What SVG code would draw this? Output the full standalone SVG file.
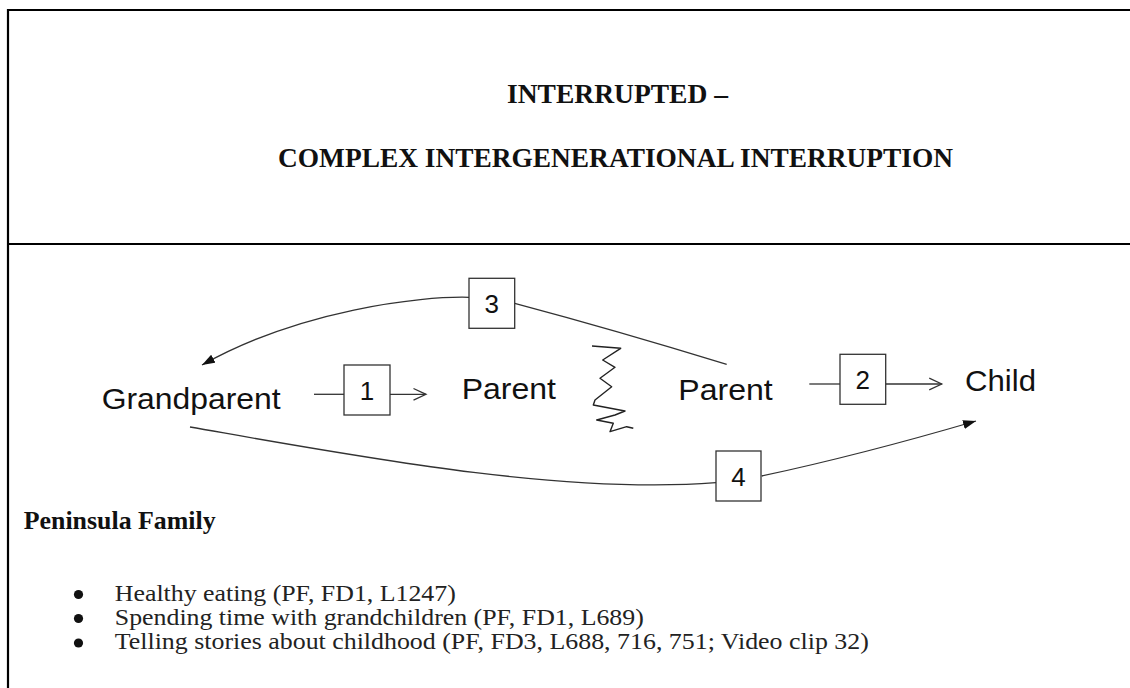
<svg xmlns="http://www.w3.org/2000/svg" width="1130" height="688" viewBox="0 0 1130 688">
  <style>
    .frame { stroke: #000; stroke-width: 2.2; fill: none; }
    .title { font-family: "Liberation Serif", "Times New Roman", serif; font-weight: bold; font-size: 27px; fill: #111; text-anchor: middle; }
    .head { font-family: "Liberation Serif", "Times New Roman", serif; font-weight: bold; font-size: 25px; fill: #111; }
    .body { font-family: "Liberation Serif", "Times New Roman", serif; font-size: 23.5px; fill: #222; }
    .gen { font-family: "Liberation Sans", Arial, sans-serif; font-size: 29px; fill: #111; }
    .num { font-family: "Liberation Sans", Arial, sans-serif; font-size: 26px; fill: #111; text-anchor: middle; }
    .box { fill: #fff; stroke: #333; stroke-width: 1.3; }
    .link { fill: none; stroke: #333; stroke-width: 1.3; }
    .squiggle { fill: none; stroke: #222; stroke-width: 1.4; stroke-linejoin: round; }
  </style>
  <defs>
    <marker id="open-arrow" markerUnits="userSpaceOnUse" markerWidth="16" markerHeight="16" refX="13" refY="7" orient="auto">
      <path d="M0.5,1.2 L13,7 L0.5,12.8" fill="none" stroke="#333" stroke-width="1.3"/>
    </marker>
    <marker id="solid-arrow" markerUnits="userSpaceOnUse" markerWidth="16" markerHeight="12" refX="13" refY="4.5" orient="auto">
      <path d="M0,0 L13,4.5 L0,9 Z" fill="#111"/>
    </marker>
  </defs>

  <rect width="1130" height="688" fill="#fff"/>

  <!-- table frame -->
  <g id="frame">
    <line class="frame" x1="8" y1="10" x2="1130" y2="10"/>
    <line class="frame" x1="8" y1="9" x2="8" y2="688"/>
    <line class="frame" x1="8" y1="244" x2="1130" y2="244"/>
  </g>

  <!-- heading cell -->
  <g id="title">
    <text class="title" x="617.5" y="103" textLength="221" lengthAdjust="spacingAndGlyphs">INTERRUPTED –</text>
    <text class="title" x="615.5" y="167" textLength="675" lengthAdjust="spacingAndGlyphs">COMPLEX INTERGENERATIONAL INTERRUPTION</text>
  </g>

  <!-- connectors -->
  <g id="connectors">
    <line class="link" x1="314" y1="394.3" x2="344" y2="394.3"/>
    <line class="link" x1="390" y1="394.3" x2="426" y2="394.3" marker-end="url(#open-arrow)"/>
    <line class="link" x1="809.3" y1="384" x2="840" y2="384"/>
    <line class="link" x1="885.7" y1="384" x2="941.7" y2="384" marker-end="url(#open-arrow)"/>
    <path class="link" d="M726.7,364.3 Q615,330 514.7,303.3"/>
    <path class="link" d="M469,297.3 C420,296 300,310 202,365" marker-end="url(#solid-arrow)"/>
    <path class="link" d="M190,427 C350,455 560,495 716,482.7"/>
    <path class="link" d="M761.7,476 Q860,455 976,421" marker-end="url(#solid-arrow)"/>
  </g>

  <!-- generations -->
  <g id="grandparent">
    <text class="gen" x="101.7" y="409.3" textLength="179" lengthAdjust="spacingAndGlyphs">Grandparent</text>
  </g>
  <g id="parent-a">
    <text class="gen" x="461.7" y="399.3" textLength="94.3" lengthAdjust="spacingAndGlyphs">Parent</text>
  </g>
  <g id="parent-b">
    <text class="gen" x="678.3" y="400" textLength="94.4" lengthAdjust="spacingAndGlyphs">Parent</text>
  </g>
  <g id="child">
    <text class="gen" x="965" y="391" textLength="71" lengthAdjust="spacingAndGlyphs">Child</text>
  </g>

  <!-- numbered transmission boxes -->
  <g id="step-1">
    <rect class="box" x="344" y="365" width="46" height="50"/>
    <text class="num" x="367" y="399.5">1</text>
  </g>
  <g id="step-2">
    <rect class="box" x="840" y="354.3" width="45.7" height="50"/>
    <text class="num" x="862.8" y="388.8">2</text>
  </g>
  <g id="step-3">
    <rect class="box" x="469" y="278.3" width="45.7" height="50"/>
    <text class="num" x="491.8" y="312.8">3</text>
  </g>
  <g id="step-4">
    <rect class="box" x="716" y="451" width="45" height="50"/>
    <text class="num" x="738.5" y="485.5">4</text>
  </g>

  <!-- break between the two parent generations -->
  <g id="interruption">
    <path class="squiggle" d="M592,346 L620.7,348.3 L602.7,360 L615,367.3 L600,378.3 L611.7,386.7 L595,400 L593.3,405 L625,411 L615,415 L596.7,420 L613.3,423.3 L610,431.7 L626.7,426.7 L633.3,428.3"/>
  </g>

  <!-- family notes -->
  <g id="notes">
    <text class="head" x="23.7" y="528.7" textLength="192" lengthAdjust="spacingAndGlyphs">Peninsula Family</text>
    <circle cx="78.5" cy="594.5" r="4.6" fill="#111"/>
    <circle cx="78.5" cy="618.5" r="4.6" fill="#111"/>
    <circle cx="78.5" cy="643" r="4.6" fill="#111"/>
    <text class="body" x="114.8" y="600.5" textLength="341" lengthAdjust="spacingAndGlyphs">Healthy eating (PF, FD1, L1247)</text>
    <text class="body" x="114.8" y="624.5" textLength="529" lengthAdjust="spacingAndGlyphs">Spending time with grandchildren (PF, FD1, L689)</text>
    <text class="body" x="114.8" y="649" textLength="754" lengthAdjust="spacingAndGlyphs">Telling stories about childhood (PF, FD3, L688, 716, 751; Video clip 32)</text>
  </g>
</svg>
